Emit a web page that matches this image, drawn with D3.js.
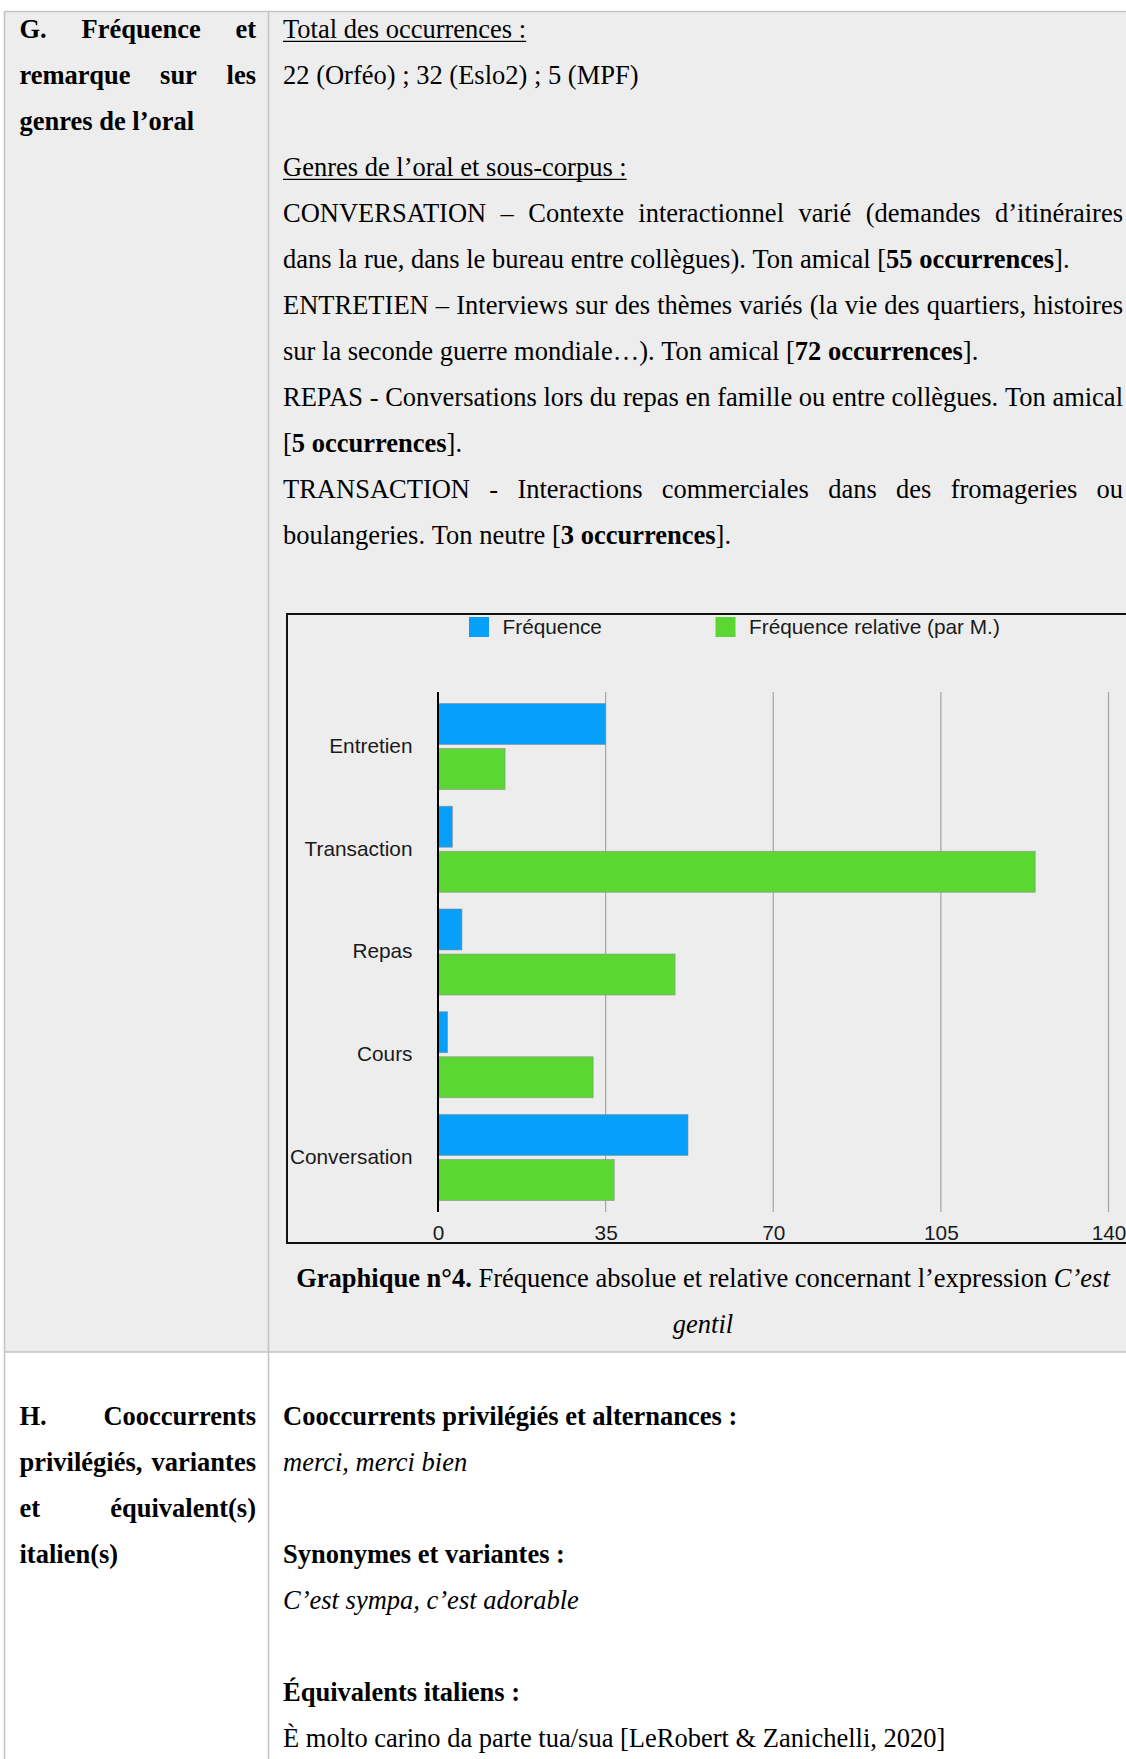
<!DOCTYPE html>
<meta charset="utf-8">
<style>
    * {
        margin: 0px;
    }
    body {
        background: #fff;
    }
    .serif {
        font-family: "Liberation Serif", "Times New Roman", serif;
        font-size: 26.5px;
        fill: #000;
    }
    .sans {
        font-family: "Liberation Sans", Arial, sans-serif;
        font-size: 20.8px;
        fill: #1a1a1a;
    }
    .grid line {
        stroke: #a4a4a4;
        stroke-width: 1.2px;
    }
    .bars rect {
        stroke: #8c8c8c;
        stroke-width: 0.8px;
        stroke-opacity: 0.7;
    }
</style>
<svg width="1126" height="1759"></svg>
<script src="https://d3js.org/d3.v7.min.js"></script>
<script>
    // chart data
    var categories = ["Entretien", "Transaction", "Repas", "Cours", "Conversation"];
    var frequence = [35, 3, 5, 2, 52.2];
    var frequenceRelative = [14, 124.7, 49.5, 32.4, 36.8];
    var xTicks = [0, 35, 70, 105, 140];
    var seriesNames = ["Fréquence", "Fréquence relative (par M.)"];
    var seriesColors = ["#069ffa", "#5cd633"];

    // table text, one entry per line : [runs, align] ; runs = [text, style]
    var leftG = [
        [[["G. Fréquence et", "b"]], "justify"],
        [[["remarque sur les", "b"]], "justify"],
        [[["genres de l’oral", "b"]], "left"]
    ];
    var rightG = [
        [[["Total des occurrences :", "u"]], "left"],
        [[["22 (Orféo) ; 32 (Eslo2) ; 5 (MPF)", ""]], "left"],
        null,
        [[["Genres de l’oral et sous-corpus :", "u"]], "left"],
        [[["CONVERSATION – Contexte interactionnel varié (demandes d’itinéraires", ""]], "justify"],
        [[["dans la rue, dans le bureau entre collègues). Ton amical [", ""], ["55 occurrences", "b"], ["].", ""]], "left"],
        [[["ENTRETIEN – Interviews sur des thèmes variés (la vie des quartiers, histoires", ""]], "justify"],
        [[["sur la seconde guerre mondiale…). Ton amical [", ""], ["72 occurrences", "b"], ["].", ""]], "left"],
        [[["REPAS - Conversations lors du repas en famille ou entre collègues. Ton amical", ""]], "justify"],
        [[["[", ""], ["5 occurrences", "b"], ["].", ""]], "left"],
        [[["TRANSACTION - Interactions commerciales dans des fromageries ou", ""]], "justify"],
        [[["boulangeries. Ton neutre [", ""], ["3 occurrences", "b"], ["].", ""]], "left"]
    ];
    var caption = [
        [[["Graphique n°4.", "b"], [" Fréquence absolue et relative concernant l’expression ", ""], ["C’est", "i"]], "center"],
        [[["gentil", "i"]], "center"]
    ];
    var leftH = [
        [[["H. Cooccurrents", "b"]], "justify"],
        [[["privilégiés, variantes", "b"]], "justify"],
        [[["et équivalent(s)", "b"]], "justify"],
        [[["italien(s)", "b"]], "left"]
    ];
    var rightH = [
        [[["Cooccurrents privilégiés et alternances :", "b"]], "left"],
        [[["merci, merci bien", "i"]], "left"],
        null,
        [[["Synonymes et variantes :", "b"]], "left"],
        [[["C’est sympa, c’est adorable", "i"]], "left"],
        null,
        [[["Équivalents italiens :", "b"]], "left"],
        [[["È molto carino da parte tua/sua [LeRobert & Zanichelli, 2020]", ""]], "left"]
    ];

    var svg = d3.select("svg");
    var fontSize = 26.5,
        lineH = 46;

    // table background and borders
    svg.append("rect")
        .attr("x", 5).attr("y", 11)
        .attr("width", 1121).attr("height", 1341)
        .attr("fill", "#ededed");

    var borders = [
        [4.5, 11.5, 1126, 11.5],
        [4.5, 11, 4.5, 1759],
        [268.5, 11, 268.5, 1759],
        [4.5, 1352, 1126, 1352]
    ];
    svg.append("g").selectAll("line")
        .data(borders)
        .enter().append("line")
        .attr("x1", function(d) { return d[0]; })
        .attr("y1", function(d) { return d[1]; })
        .attr("x2", function(d) { return d[2]; })
        .attr("y2", function(d) { return d[3]; })
        .attr("stroke", "#c5c5c5")
        .attr("stroke-width", 1.6);

    // draws one line of text, justified / left / centered
    function drawLine(g, runs, x0, w, y, align) {
        var words = [[]];
        runs.forEach(function(r) {
            var st = r[1] || "";
            r[0].split(" ").forEach(function(p, k) {
                if (k > 0) words.push([]);
                if (p.length) words[words.length - 1].push({ t: p, st: st });
            });
        });
        words = words.filter(function(wd) { return wd.length; });

        var line = g.append("g");
        words.forEach(function(wd) {
            wd.forEach(function(pc) {
                pc.el = line.append("text")
                    .attr("class", "serif")
                    .attr("y", y)
                    .style("font-weight", pc.st.indexOf("b") >= 0 ? "bold" : null)
                    .style("font-style", pc.st.indexOf("i") >= 0 ? "italic" : null)
                    .text(pc.t);
                pc.w = pc.el.node().getComputedTextLength();
            });
        });

        var space = fontSize * 0.25;
        var wordW = words.map(function(wd) { return d3.sum(wd, function(p) { return p.w; }); });
        var total = d3.sum(wordW) + space * (words.length - 1);
        var gap = space,
            start = x0;
        if (align === "justify" && words.length > 1) gap = (w - d3.sum(wordW)) / (words.length - 1);
        if (align === "center") start = x0 + (w - total) / 2;

        var cx = start;
        words.forEach(function(wd, i) {
            wd.forEach(function(pc) {
                pc.el.attr("x", cx);
                cx += pc.w;
            });
            if (i < words.length - 1) cx += gap;
        });

        var underlined = runs.some(function(r) { return (r[1] || "").indexOf("u") >= 0; });
        if (underlined) {
            line.append("line")
                .attr("x1", start).attr("x2", cx)
                .attr("y1", y + 3.5).attr("y2", y + 3.5)
                .attr("stroke", "#000")
                .attr("stroke-width", 1.3);
        }
    }

    function drawBlock(lines, x0, w, y0) {
        var g = svg.append("g");
        lines.forEach(function(l, i) {
            if (l) drawLine(g, l[0], x0, w, y0 + i * lineH, l[1]);
        });
    }

    drawBlock(leftG, 19.5, 236.5, 37.8);
    drawBlock(rightG, 283, 840, 37.8);
    drawBlock(caption, 283, 840, 1286.5);
    drawBlock(leftH, 19.5, 236.5, 1425);
    drawBlock(rightH, 283, 840, 1425);

    // ---- bar chart ----
    var chart = svg.append("g");

    chart.append("rect")
        .attr("x", 287).attr("y", 614)
        .attr("width", 900).attr("height", 629)
        .attr("fill", "none")
        .attr("stroke", "#111")
        .attr("stroke-width", 2);

    var x = d3.scaleLinear()
        .domain([0, 140])
        .range([438, 1108.5]);

    var y = d3.scaleBand()
        .domain(categories)
        .range([692, 1212])
        .paddingInner(0.163)
        .paddingOuter(0.112);

    var ySub = d3.scaleBand()
        .domain([0, 1])
        .range([0, y.bandwidth()])
        .paddingInner(0.09);

    chart.append("g")
        .attr("class", "grid")
        .selectAll("line")
        .data(xTicks.slice(1))
        .enter().append("line")
        .attr("x1", function(d) { return x(d); })
        .attr("x2", function(d) { return x(d); })
        .attr("y1", y.range()[0])
        .attr("y2", y.range()[1]);

    var series = [frequence, frequenceRelative];
    var bars = chart.append("g").attr("class", "bars");
    series.forEach(function(vals, s) {
        bars.append("g")
            .selectAll("rect")
            .data(vals)
            .enter().append("rect")
            .attr("x", x(0))
            .attr("y", function(d, i) { return y(categories[i]) + ySub(s); })
            .attr("width", function(d) { return x(d) - x(0); })
            .attr("height", ySub.bandwidth())
            .attr("fill", seriesColors[s]);
    });

    // y axis line
    chart.append("line")
        .attr("x1", x(0)).attr("x2", x(0))
        .attr("y1", y.range()[0]).attr("y2", y.range()[1])
        .attr("stroke", "#000")
        .attr("stroke-width", 2);

    // category labels
    chart.append("g")
        .selectAll("text")
        .data(categories)
        .enter().append("text")
        .attr("class", "sans")
        .attr("x", 412.5)
        .attr("y", function(d) { return y(d) + y.bandwidth() / 2 - 1; })
        .attr("dy", "0.35em")
        .attr("text-anchor", "end")
        .text(function(d) { return d; });

    // x tick labels
    var xAxis = chart.append("g")
        .attr("transform", "translate(0,1224)")
        .call(d3.axisBottom(x).tickValues(xTicks).tickSize(0).tickPadding(0));
    xAxis.select(".domain").remove();
    xAxis.selectAll("text")
        .attr("class", "sans")
        .attr("font-family", null)
        .attr("font-size", null)
        .attr("fill", null)
        .attr("dy", "0.75em");

    // legend
    var legendX = [469, 715.5];
    var legend = chart.append("g")
        .selectAll("g")
        .data(seriesNames)
        .enter().append("g")
        .attr("transform", function(d, i) { return "translate(" + legendX[i] + ",617)"; });
    legend.append("rect")
        .attr("width", 20).attr("height", 20)
        .attr("fill", function(d, i) { return seriesColors[i]; });
    legend.append("text")
        .attr("class", "sans")
        .attr("x", 33.5)
        .attr("y", 10)
        .attr("dy", "0.35em")
        .text(function(d) { return d; });
</script>
